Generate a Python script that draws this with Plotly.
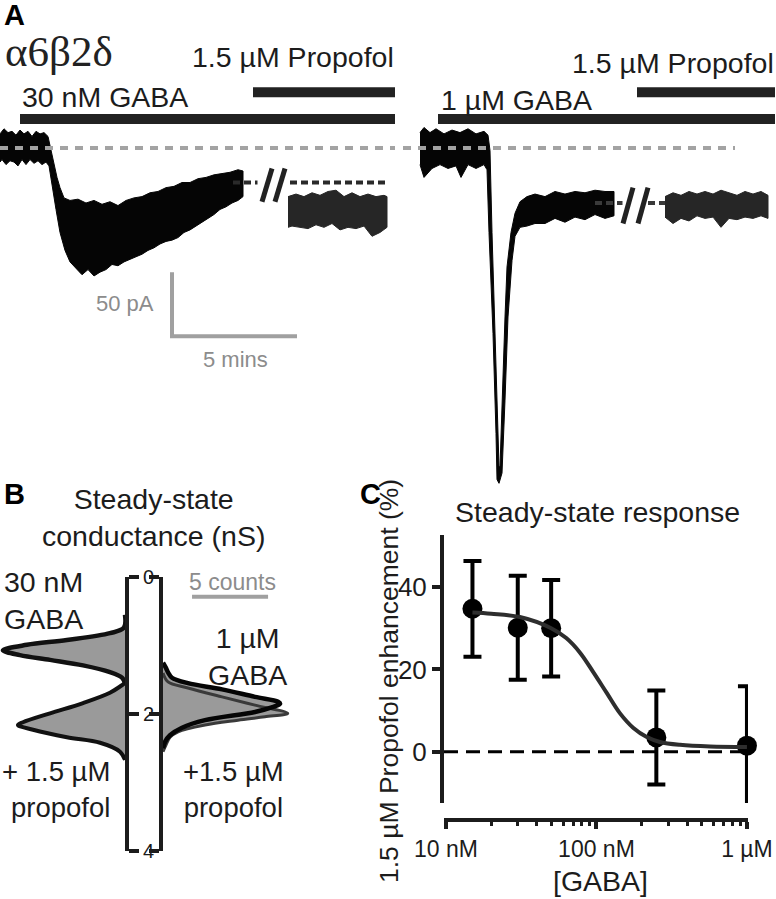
import plotly.graph_objects as go

W, H = 776, 899
FONT = "Liberation Sans, Arial, Helvetica, sans-serif"
SERIF = "Liberation Serif, Times New Roman, serif"
INK = "#1c1c1c"
GREY = "#9c9c9c"
FILL = "#9a9a9a"
TXT = 28.5

# ---------------- Panel A : current traces (time in min, current in pA) ----------------
# left recording, 30 nM GABA (upper envelope left->right, lower envelope right->left)
a1_up_t = [0, 0.16, 0.32, 0.48, 0.64, 0.8, 0.96, 1.12, 1.28, 1.44, 1.6, 1.76, 1.92, 2.04, 2.16,
           2.28, 2.4, 2.56, 2.8, 3.12, 3.44, 3.76, 4.08, 4.4, 4.72, 5.04, 5.36, 5.68, 6.0, 6.32,
           6.64, 6.96, 7.28, 7.6, 7.92, 8.24, 8.56, 8.88, 9.2, 9.52, 9.72]
a1_up_i = [11, 15, 12, 13, 10, 14, 11, 13, 9, 13, 11, 12, 9, -2, -13, -23, -31, -39, -41, -40,
           -43, -41, -44, -42, -45, -41, -39, -38, -35, -34, -31, -30, -27, -27, -24, -23, -21,
           -20, -19, -17, -18]
a1_lo_t = [9.72, 9.52, 9.28, 9.04, 8.8, 8.56, 8.32, 8.08, 7.84, 7.6, 7.36, 7.12, 6.88, 6.64, 6.4,
           6.16, 5.92, 5.68, 5.44, 5.2, 4.96, 4.72, 4.48, 4.24, 4.0, 3.76, 3.52, 3.28, 3.04, 2.8,
           2.6, 2.4, 2.24, 2.08, 1.96, 1.84, 1.68, 1.52, 1.36, 1.2, 1.04, 0.88, 0.72, 0.56, 0.4,
           0.24, 0.08, 0]
a1_lo_i = [-38, -41, -43, -46, -48, -52, -55, -58, -61, -64, -66, -70, -72, -73, -75, -78, -80,
           -83, -85, -87, -89, -92, -91, -95, -97, -100, -95, -99, -94, -89, -80, -66, -48, -29,
           -14, -11, -13, -10, -12, -9, -13, -9, -14, -11, -10, -13, -9, -11]
# left recording, + 1.5 uM propofol segment
a1p_up_t = [11.52, 11.84, 12.16, 12.48, 12.8, 13.12, 13.44, 13.76, 14.08, 14.4, 14.72, 15.04, 15.36, 15.48]
a1p_up_i = [-38, -36, -38, -35, -37, -34, -33, -38, -35, -38, -36, -38, -37, -38]
a1p_lo_t = [15.48, 15.2, 14.88, 14.56, 14.24, 13.92, 13.6, 13.28, 12.96, 12.64, 12.32, 12.0, 11.68, 11.52]
a1p_lo_i = [-62, -66, -69, -61, -63, -62, -64, -59, -62, -60, -63, -62, -61, -62]

# right recording, 1 uM GABA
a2_up_t = [0.8, 0.96, 1.2, 1.44, 1.76, 2.08, 2.4, 2.72, 3.04, 3.36, 3.52, 3.6, 3.68, 3.8, 3.92,
           3.96, 4.0, 4.08, 4.2, 4.28, 4.44, 4.6, 4.8, 5.08, 5.4, 5.8, 6.2, 6.6, 7.0, 7.4, 7.8, 8.2, 8.56]
a2_up_i = [12, 16, 12, 15, 11, 14, 12, 15, 11, 13, 10, -2, -66, -145, -223, -249, -249, -197,
           -132, -93, -66, -51, -42, -38, -36, -38, -34, -36, -34, -35, -33, -34, -34]
a2_lo_t = [8.56, 8.2, 7.8, 7.4, 7.0, 6.6, 6.2, 5.8, 5.4, 5.08, 4.8, 4.6, 4.48, 4.32, 4.2, 4.08,
           3.96, 3.88, 3.84, 3.72, 3.56, 3.48, 3.36, 3.04, 2.72, 2.44, 2.24, 1.92, 1.6, 1.28, 0.96, 0.8]
a2_lo_i = [-53, -55, -52, -56, -54, -58, -55, -59, -59, -61, -62, -69, -88, -132, -197, -254,
           -262, -259, -223, -145, -66, -17, -13, -16, -13, -23, -14, -16, -13, -16, -23, -13]
# right recording, + 1.5 uM propofol segment
a2p_up_t = [10.6, 10.92, 11.24, 11.56, 11.88, 12.2, 12.52, 12.84, 13.16, 13.48, 13.8, 14.12, 14.44, 14.72]
a2p_up_i = [-38, -35, -37, -34, -36, -34, -36, -33, -35, -37, -34, -36, -34, -37]
a2p_lo_t = [14.72, 14.44, 14.12, 13.8, 13.48, 13.16, 12.84, 12.52, 12.2, 11.88, 11.56, 11.24, 10.92, 10.6]
a2p_lo_i = [-55, -53, -55, -54, -56, -55, -62, -54, -55, -53, -57, -55, -59, -54]

# drug application bars (start, end in min) and their current level (pA offset)
left_gaba_bar = [0.8, 15.8]
left_prop_bar = [10.12, 15.8]
right_gaba_bar = [1.52, 15.0]
right_prop_bar = [9.48, 15.0]
gaba_bar_level = 22.7
prop_bar_level = 43.5

# baseline (0 pA) and pre-propofol reference levels
left_baseline_t = [0, 15.8]
right_baseline_t = [0.12, 13.4]
left_ref_level = -27
left_ref_segments = [[9.32, 10.3], [11.6, 15.55]]
right_ref_level = -43
right_ref_segments = [[7.8, 8.9], [9.92, 10.6]]
# time-break marks "//" (t0, t1, i0, i1)
left_breaks = [[10.48, 10.88, -42, -16], [11.0, 11.4, -42, -16]]
right_breaks = [[8.92, 9.32, -59, -31], [9.52, 9.92, -59, -31]]
# scale bar: 50 pA, 5 min
scale_t0, scale_i0 = 6.88, -147
scale_pA, scale_min = 50, 5

# ---------------- Panel B : conductance histograms (nS vs counts) ----------------
b_l_gaba_g = [0.55, 0.74, 0.82, 0.92, 0.99, 1.07, 1.14, 1.21, 1.29, 1.39, 1.47, 1.55]
b_l_gaba_c = [0, 0.07, 0.99, 3.82, 6.45, 8.03, 6.91, 4.93, 2.76, 0.99, 0.2, 0]
b_l_prop_g = [1.55, 1.58, 1.69, 1.84, 1.99, 2.12, 2.16, 2.23, 2.34, 2.42, 2.55, 2.67]
b_l_prop_c = [0, 0.2, 0.99, 2.76, 4.93, 6.71, 7.04, 6.05, 3.82, 1.64, 0.33, 0]
b_r_gaba_g = [1.25, 1.33, 1.40, 1.47, 1.55, 1.64, 1.75, 1.82, 1.85, 1.90, 1.97, 2.09, 2.20, 2.31, 2.40, 2.50]
b_r_gaba_c = [0, 0.2, 0.35, 0.59, 1.64, 3.88, 6.05, 7.57, 7.7, 7.2, 6.05, 2.76, 1.25, 0.46, 0.15, 0]
b_r_prop_g = [1.40, 1.53, 1.62, 1.75, 1.87, 1.99, 2.04, 2.09, 2.16, 2.26, 2.34, 2.45, 2.55]
b_r_prop_c = [0, 0.33, 1.64, 3.88, 6.05, 8.2, 6.7, 4.93, 2.76, 0.99, 0.46, 0.2, 0]
b_ticks = [0, 2, 4]
counts_bar = [1.91, 6.91]   # 5 counts
counts_bar_g = 0.29

# ---------------- Panel C : propofol enhancement ----------------
gaba_nM = [15, 30, 50, 250, 1000]
enh_mean = [34.7, 30.1, 30.0, 3.5, 1.5]
enh_err = [11.6, 12.6, 11.7, 11.4, 14.4]
fit_nM = [15, 20, 31, 50, 63, 78, 95, 117, 143, 176, 216, 264, 359, 568, 1000]
fit_pct = [33.8, 33.5, 32.7, 30.0, 27.6, 24.0, 19.4, 14.3, 9.4, 5.8, 3.6, 2.4, 1.7, 1.3, 1.2]
c_xticks = [10, 100, 1000]
c_xticklabels = ["10 nM", "100 nM", "1 µM"]
c_minor = [20, 30, 40, 50, 60, 70, 80, 90, 200, 300, 400, 500, 600, 700, 800, 900]
c_yticks = [0, 20, 40]

fig = go.Figure()


def add(tr):
    tr.update(showlegend=False, hoverinfo="skip")
    fig.add_trace(tr)


def band(tu, iu, tl, il, color, xa, ya):
    add(go.Scatter(x=tu + tl, y=iu + il, mode="lines", fill="toself", fillcolor=color,
                   line=dict(color=color, width=1), xaxis=xa, yaxis=ya))


def seg(xs, ys, color, width, xa, ya, dash=None, shape="linear"):
    add(go.Scatter(x=xs, y=ys, mode="lines", line=dict(color=color, width=width, dash=dash, shape=shape),
                   xaxis=xa, yaxis=ya))


# Panel A traces
band(a1_up_t, a1_up_i, a1_lo_t, a1_lo_i, "#050505", "x", "y")
band(a1p_up_t, a1p_up_i, a1p_lo_t, a1p_lo_i, "#262626", "x", "y")
band(a2_up_t, a2_up_i, a2_lo_t, a2_lo_i, "#050505", "x2", "y2")
band(a2p_up_t, a2p_up_i, a2p_lo_t, a2p_lo_i, "#262626", "x2", "y2")

for bar, lvl, xa, ya in [(left_gaba_bar, gaba_bar_level, "x", "y"), (left_prop_bar, prop_bar_level, "x", "y"),
                         (right_gaba_bar, gaba_bar_level, "x2", "y2"), (right_prop_bar, prop_bar_level, "x2", "y2")]:
    seg(bar, [lvl, lvl], "#222222", 10, xa, ya)

seg(left_baseline_t, [0, 0], "#a3a3a3", 4, "x", "y", dash="8px,7px")
seg(right_baseline_t, [0, 0], "#a3a3a3", 4, "x2", "y2", dash="8px,7px")
for s in left_ref_segments:
    seg(s, [left_ref_level] * 2, "#2a2a2a", 4, "x", "y", dash="7px,4px")
for s in right_ref_segments:
    seg(s, [right_ref_level] * 2, "#3a3a3a", 4, "x2", "y2", dash="7px,4px")
for b in left_breaks:
    seg([b[0], b[1]], [b[2], b[3]], "#222222", 5, "x", "y")
for b in right_breaks:
    seg([b[0], b[1]], [b[2], b[3]], "#222222", 5, "x2", "y2")
seg([scale_t0, scale_t0, scale_t0 + scale_min], [scale_i0 + scale_pA, scale_i0, scale_i0],
    "#a0a0a0", 4, "x", "y")

# Panel B
for g, c, xa, ya in [(b_l_gaba_g, b_l_gaba_c, "x3", "y3"), (b_l_prop_g, b_l_prop_c, "x3", "y3"),
                     (b_r_gaba_g, b_r_gaba_c, "x4", "y4"), (b_r_prop_g, b_r_prop_c, "x4", "y4")]:
    add(go.Scatter(x=c, y=g, mode="lines", fill="toself", fillcolor=FILL,
                   line=dict(width=0, shape="spline", smoothing=0.8), xaxis=xa, yaxis=ya))
seg(b_l_gaba_c, b_l_gaba_g, "#111111", 4.5, "x3", "y3", shape="spline")
seg(b_l_prop_c, b_l_prop_g, "#111111", 4, "x3", "y3", shape="spline")
seg(b_r_prop_c, b_r_prop_g, "#3a3a3a", 3, "x4", "y4", shape="spline")
seg(b_r_gaba_c, b_r_gaba_g, "#050505", 4.5, "x4", "y4", shape="spline")
seg(counts_bar, [counts_bar_g] * 2, "#a0a0a0", 4, "x4", "y4")

# Panel C
add(go.Scatter(x=gaba_nM, y=enh_mean, mode="markers", xaxis="x5", yaxis="y5", cliponaxis=False,
               marker=dict(size=20, color="#000000"),
               error_y=dict(type="data", array=enh_err, visible=True, thickness=4, width=9, color="#000000")))
seg(fit_nM, fit_pct, "#2e2e2e", 4, "x5", "y5", shape="spline")
fig.add_shape(type="line", xref="x5 domain", yref="y5", x0=0, x1=1, y0=0, y1=0,
              line=dict(color="#000000", width=3, dash="14px,8px"))

# ---------------- layout ----------------
yA = [1 - 490 / H, 1]
yB = [1 - 851 / H, 1 - 577 / H]
hidden = dict(visible=False, showgrid=False, zeroline=False, fixedrange=True, automargin=False)
bax = dict(showline=True, linewidth=4, linecolor=INK, ticks="outside", ticklen=10, tickwidth=4,
           tickcolor=INK, tickvals=b_ticks, showgrid=False, zeroline=False, range=[4, 0], domain=yB,
           automargin=False)

fig.update_layout(
    width=W, height=H, margin=dict(l=0, r=0, t=0, b=0, pad=0, autoexpand=False),
    paper_bgcolor="white", plot_bgcolor="rgba(0,0,0,0)",
    font=dict(family=FONT, color=INK),
    showlegend=False,
    xaxis=dict(hidden, domain=[0, 400 / W], range=[0, 16], anchor="y"),
    yaxis=dict(hidden, domain=yA, range=[-267.2, 115.6], anchor="x"),
    xaxis2=dict(hidden, domain=[400 / W, 1], range=[0, 15.04], anchor="y2"),
    yaxis2=dict(hidden, domain=yA, range=[-267.2, 115.6], anchor="x2"),
    xaxis3=dict(hidden, domain=[0, 125 / W], range=[8.22, 0], anchor="y3"),
    yaxis3=dict(bax, anchor="x3", side="right", tickfont=dict(size=20, color=INK, family=FONT)),
    xaxis4=dict(hidden, domain=[163 / W, 300 / W], range=[0, 9.01], anchor="y4"),
    yaxis4=dict(bax, anchor="x4", side="left", showticklabels=False),
    xaxis5=dict(domain=[444 / W, 748 / W], type="log", range=[0.987, 3.007], anchor="free",
                position=1 - 820 / H, showline=True, linewidth=4, linecolor=INK, ticks="outside",
                ticklen=7, tickwidth=4, tickcolor=INK, tickvals=c_xticks, ticktext=c_xticklabels,
                tickfont=dict(size=23, color=INK), showgrid=False, zeroline=False, automargin=False,
                minor=dict(ticks="outside", ticklen=4, tickwidth=3, tickcolor=INK, tickvals=c_minor,
                           showgrid=False)),
    yaxis5=dict(domain=[1 - 803 / H, 1 - 535 / H], range=[-12.4, 52.6], anchor="x5",
                showline=True, linewidth=4, linecolor=INK, ticks="outside", ticklen=8, tickwidth=4,
                tickcolor=INK, tickvals=c_yticks, tickfont=dict(size=26, color=INK),
                showgrid=False, zeroline=False, automargin=False),
)


def ann(text, px, py, xanchor="left", size=TXT, color=INK, family=FONT, angle=0, align="left"):
    fig.add_annotation(text=text, x=px / W, y=1 - py / H, xref="paper", yref="paper",
                       xanchor=xanchor, yanchor="middle", showarrow=False, textangle=angle,
                       align=align, font=dict(size=size, color=color, family=family))


ann("<b>A</b>", 2, 15, size=29, color="#000")
ann("α6β2δ", 3, 52, size=43, family=SERIF, color="#222")
ann("1.5 µM Propofol", 396, 57, xanchor="right")
ann("30 nM GABA", 20, 97)
ann("1.5 µM Propofol", 776, 63, xanchor="right")
ann("1 µM GABA", 439, 100)
ann("50 pA", 156, 304, xanchor="right", size=22, color="#8c8c8c")
ann("5 mins", 201, 359, size=22, color="#8c8c8c")

ann("<b>B</b>", 2, 494, size=29, color="#000")
ann("Steady-state<br>conductance (nS)", 153, 517, xanchor="center", align="center")
ann("30 nM<br>GABA", 2, 600)
ann("5 counts", 232, 582, xanchor="center", size=23, color="#8c8c8c")
ann("1 µM<br>GABA", 248, 656, xanchor="center", align="center")
ann("+ 1.5 µM<br>propofol", 112, 789, xanchor="right", align="right", size=27.5)
ann("+1.5 µM<br>propofol", 233, 789, xanchor="center", align="center", size=27.5)

ann("<b>C</b>", 358, 494, size=29, color="#000")
ann("Steady-state response", 597, 512, xanchor="center")
ann("[GABA]", 600, 881, xanchor="center")
ann("1.5 µM Propofol enhancement (%)", 389, 681, xanchor="center", size=26.5, angle=-90)

fig.write_html("out.html", config={"displayModeBar": False},
               post_script="document.body.style.margin='0';document.body.style.overflow='hidden';")
